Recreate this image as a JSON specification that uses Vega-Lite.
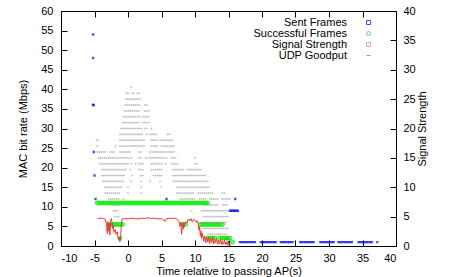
{
"$schema": "https://vega.github.io/schema/vega-lite/v6.json",
"width": 335, "height": 235,
"autosize": {"type": "none"},
"padding": {"left": 61, "top": 11, "right": 61, "bottom": 31},
"background": "white",
"config": {
  "font": "Liberation Sans",
  "view": {"stroke": "#000", "strokeWidth": 1},
  "axis": {"labelFont": "Liberation Sans", "labelFontSize": 11, "titleFont": "Liberation Sans", "titleFontSize": 11, "titleFontWeight": "normal", "labelColor": "#000", "titleColor": "#000", "domain": false, "grid": false, "tickColor": "#000", "tickSize": -6, "tickWidth": 1},
  "legend": {"orient": "none", "legendX": 202, "legendY": 6, "title": null, "labelAlign": "right", "symbolOffset": 100, "labelOffset": -27, "symbolSize": 16, "rowPadding": -2.5, "labelFontSize": 11, "labelFont": "Liberation Sans", "labelColor": "#000", "symbolStrokeWidth": 1}
},
"datasets": {
"sent": [
{"t":-5.2,"r":54},{"t":-5.2,"r":48},{"t":-5.25,"r":36},{"t":-5.1,"r":36},{"t":-5.1,"r":24},{"t":-5.0,"r":18},{"t":-4.85,"r":12},{"t":5.75,"r":12},{"t":16.0,"r":12},
{"t":-2.8,"r":5.5},{"t":-2.5,"r":5.5},{"t":8.3,"r":5.5},{"t":-1.2,"r":2},{"t":14.7,"r":2},{"t":15.0,"r":1},
{"t":15.2,"r":9},{"t":15.4,"r":9},{"t":15.6,"r":9},{"t":15.8,"r":9},{"t":16.0,"r":9},{"t":16.2,"r":9},{"t":16.4,"r":9},
{"t":16.7,"r":1},{"t":16.95,"r":1},{"t":17.2,"r":1},{"t":17.45,"r":1},{"t":17.7,"r":1},{"t":17.95,"r":1},{"t":18.2,"r":1},{"t":18.45,"r":1},{"t":18.7,"r":1},{"t":18.95,"r":1},
{"t":19.8,"r":1},{"t":20.05,"r":1},{"t":20.3,"r":1},{"t":20.55,"r":1},{"t":20.8,"r":1},{"t":21.05,"r":1},{"t":21.3,"r":1},{"t":21.55,"r":1},{"t":21.8,"r":1},{"t":22.05,"r":1},
{"t":22.8,"r":1},{"t":23.05,"r":1},{"t":23.3,"r":1},{"t":23.55,"r":1},{"t":23.8,"r":1},{"t":24.05,"r":1},{"t":24.3,"r":1},{"t":24.55,"r":1},
{"t":25.7,"r":1},{"t":25.95,"r":1},{"t":26.2,"r":1},{"t":26.45,"r":1},{"t":26.7,"r":1},{"t":26.95,"r":1},{"t":27.2,"r":1},{"t":27.45,"r":1},{"t":27.7,"r":1},
{"t":28.7,"r":1},{"t":28.95,"r":1},{"t":29.2,"r":1},{"t":29.45,"r":1},{"t":29.7,"r":1},{"t":29.95,"r":1},{"t":30.2,"r":1},{"t":30.45,"r":1},{"t":30.7,"r":1},
{"t":31.4,"r":1},{"t":31.65,"r":1},{"t":31.9,"r":1},{"t":32.15,"r":1},{"t":32.4,"r":1},{"t":32.65,"r":1},{"t":32.9,"r":1},{"t":33.15,"r":1},{"t":33.4,"r":1},
{"t":34.4,"r":1},{"t":34.65,"r":1},{"t":34.9,"r":1},{"t":35.15,"r":1},{"t":35.4,"r":1},{"t":35.65,"r":1},{"t":35.9,"r":1},{"t":36.15,"r":1},{"t":36.4,"r":1},
{"t":37.2,"r":1}
],
"succ": [
{"t":-4.6,"r":11},{"t":-4.3,"r":11},{"t":-4.0,"r":11},{"t":-3.7,"r":11},{"t":-3.4,"r":11},{"t":-3.1,"r":11},{"t":-2.8,"r":11},{"t":-2.5,"r":11},{"t":-2.2,"r":11},{"t":-1.9,"r":11},{"t":-1.6,"r":11},{"t":-1.3,"r":11},{"t":-1.0,"r":11},{"t":-0.7,"r":11},{"t":-0.4,"r":11},{"t":-0.1,"r":11},{"t":0.2,"r":11},{"t":0.5,"r":11},{"t":0.8,"r":11},{"t":1.1,"r":11},{"t":1.4,"r":11},{"t":1.7,"r":11},{"t":2.0,"r":11},{"t":2.3,"r":11},{"t":2.6,"r":11},{"t":2.9,"r":11},{"t":3.2,"r":11},{"t":3.5,"r":11},{"t":3.8,"r":11},{"t":4.1,"r":11},{"t":4.4,"r":11},{"t":4.7,"r":11},{"t":5.0,"r":11},{"t":5.3,"r":11},{"t":5.6,"r":11},{"t":5.9,"r":11},{"t":6.2,"r":11},{"t":6.5,"r":11},{"t":6.8,"r":11},{"t":7.1,"r":11},{"t":7.4,"r":11},{"t":7.7,"r":11},{"t":8.0,"r":11},{"t":8.3,"r":11},{"t":8.6,"r":11},{"t":8.9,"r":11},{"t":9.2,"r":11},{"t":9.5,"r":11},{"t":9.8,"r":11},{"t":10.1,"r":11},{"t":10.4,"r":11},{"t":10.7,"r":11},{"t":11.0,"r":11},{"t":11.3,"r":11},{"t":11.6,"r":11},{"t":11.9,"r":11},
{"t":-2.9,"r":5.5},{"t":-2.6,"r":5.5},{"t":-2.3,"r":5.5},{"t":-2.0,"r":5.5},{"t":-1.7,"r":5.5},{"t":-1.4,"r":5.5},{"t":-1.1,"r":5.5},{"t":-0.8,"r":5.5},
{"t":8.0,"r":5.5},{"t":8.3,"r":5.5},{"t":8.6,"r":5.5},
{"t":10.8,"r":5.5},{"t":11.1,"r":5.5},{"t":11.4,"r":5.5},{"t":11.7,"r":5.5},{"t":12.0,"r":5.5},{"t":12.3,"r":5.5},{"t":12.6,"r":5.5},{"t":12.9,"r":5.5},{"t":13.2,"r":5.5},{"t":13.5,"r":5.5},{"t":13.8,"r":5.5},{"t":14.1,"r":5.5},
{"t":-1.2,"r":2},{"t":11.8,"r":2},{"t":12.1,"r":2},{"t":12.4,"r":2},{"t":12.7,"r":2},{"t":13.0,"r":2},{"t":13.7,"r":2},{"t":14.0,"r":2},{"t":14.3,"r":2},{"t":14.6,"r":2},{"t":14.9,"r":2},{"t":15.2,"r":2},
{"t":15.6,"r":1}
],
"sig": [
{"t":0.5,"s":27},
{"t":-0.3,"s":26},{"t":0,"s":26},{"t":0.6,"s":26},{"t":0.9,"s":26},{"t":1.4,"s":26},{"t":1.7,"s":26},
{"t":-0.3,"s":25},{"t":0,"s":25},{"t":0.3,"s":25},{"t":0.6,"s":25},{"t":0.9,"s":25},{"t":1.2,"s":25},{"t":1.5,"s":25},{"t":1.8,"s":25},
{"t":-0.4,"s":24},{"t":-0.1,"s":24},{"t":0.2,"s":24},{"t":0.5,"s":24},{"t":0.8,"s":24},{"t":1.1,"s":24},{"t":1.4,"s":24},{"t":1.7,"s":24},{"t":2.5,"s":24},{"t":2.8,"s":24},
{"t":-0.5,"s":23},{"t":-0.2,"s":23},{"t":0.1,"s":23},{"t":0.4,"s":23},{"t":0.7,"s":23},{"t":1,"s":23},{"t":1.3,"s":23},{"t":1.6,"s":23},{"t":2.5,"s":23},{"t":2.8,"s":23},{"t":3.1,"s":23},
{"t":-0.7,"s":22},{"t":-0.4,"s":22},{"t":-0.1,"s":22},{"t":0.2,"s":22},{"t":0.5,"s":22},{"t":0.8,"s":22},{"t":1.1,"s":22},{"t":1.4,"s":22},{"t":1.7,"s":22},{"t":2.2,"s":22},{"t":2.5,"s":22},{"t":2.8,"s":22},{"t":3.1,"s":22},
{"t":-0.8,"s":21},{"t":-0.5,"s":21},{"t":-0.2,"s":21},{"t":0.1,"s":21},{"t":0.4,"s":21},{"t":0.7,"s":21},{"t":1,"s":21},{"t":1.3,"s":21},{"t":1.6,"s":21},{"t":2.2,"s":21},{"t":2.5,"s":21},{"t":2.8,"s":21},{"t":3.2,"s":21},
{"t":-1,"s":20},{"t":-0.7,"s":20},{"t":-0.4,"s":20},{"t":-0.1,"s":20},{"t":0.2,"s":20},{"t":0.5,"s":20},{"t":0.8,"s":20},{"t":1.1,"s":20},{"t":1.4,"s":20},{"t":1.7,"s":20},{"t":2,"s":20},{"t":2.5,"s":20},{"t":2.8,"s":20},{"t":3.5,"s":20},
{"t":-1.2,"s":19},{"t":-0.9,"s":19},{"t":-0.6,"s":19},{"t":-0.3,"s":19},{"t":0,"s":19},{"t":0.3,"s":19},{"t":0.6,"s":19},{"t":0.9,"s":19},{"t":1.2,"s":19},{"t":1.5,"s":19},{"t":1.8,"s":19},{"t":2.1,"s":19},{"t":2.8,"s":19},{"t":3.3,"s":19},{"t":3.6,"s":19},{"t":3.9,"s":19},{"t":4.2,"s":19},{"t":5.9,"s":19},{"t":6.2,"s":19},
{"t":-4.7,"s":18},{"t":-4.4,"s":18},{"t":-1.2,"s":18},{"t":-0.9,"s":18},{"t":-0.6,"s":18},{"t":-0.3,"s":18},{"t":0,"s":18},{"t":0.3,"s":18},{"t":0.6,"s":18},{"t":0.9,"s":18},{"t":1.2,"s":18},{"t":1.5,"s":18},{"t":1.8,"s":18},{"t":2.1,"s":18},{"t":2.4,"s":18},{"t":3.4,"s":18},{"t":3.7,"s":18},{"t":4,"s":18},{"t":4.3,"s":18},{"t":4.8,"s":18},{"t":5.1,"s":18},{"t":5.4,"s":18},{"t":5.7,"s":18},{"t":6,"s":18},{"t":6.3,"s":18},{"t":6.6,"s":18},
{"t":-4.6,"s":17},{"t":-1.9,"s":17},{"t":-1.2,"s":17},{"t":-0.9,"s":17},{"t":-0.6,"s":17},{"t":-0.3,"s":17},{"t":0,"s":17},{"t":0.3,"s":17},{"t":0.6,"s":17},{"t":0.9,"s":17},{"t":1.2,"s":17},{"t":1.5,"s":17},{"t":1.8,"s":17},{"t":2.1,"s":17},{"t":2.4,"s":17},{"t":3.5,"s":17},{"t":3.8,"s":17},{"t":4.1,"s":17},{"t":4.4,"s":17},{"t":5,"s":17},{"t":5.3,"s":17},{"t":5.6,"s":17},{"t":5.9,"s":17},{"t":6.2,"s":17},{"t":6.5,"s":17},{"t":6.8,"s":17},
{"t":-4.6,"s":16},{"t":-4.3,"s":16},{"t":-4,"s":16},{"t":-3.7,"s":16},{"t":-3.4,"s":16},{"t":-2.7,"s":16},{"t":-2.4,"s":16},{"t":-2.1,"s":16},{"t":-1.2,"s":16},{"t":-0.9,"s":16},{"t":-0.6,"s":16},{"t":-0.3,"s":16},{"t":0,"s":16},{"t":0.3,"s":16},{"t":1.6,"s":16},{"t":1.9,"s":16},{"t":3.3,"s":16},{"t":3.6,"s":16},{"t":3.9,"s":16},{"t":4.2,"s":16},{"t":4.5,"s":16},{"t":4.8,"s":16},{"t":5.1,"s":16},{"t":5.4,"s":16},{"t":5.7,"s":16},{"t":6,"s":16},{"t":6.3,"s":16},{"t":6.6,"s":16},{"t":6.9,"s":16},
{"t":-4.4,"s":15},{"t":-4.1,"s":15},{"t":-3.8,"s":15},{"t":-3.5,"s":15},{"t":-3.2,"s":15},{"t":-2.9,"s":15},{"t":-2.6,"s":15},{"t":-2.3,"s":15},{"t":-2,"s":15},{"t":-1.7,"s":15},{"t":-1.4,"s":15},{"t":-1.1,"s":15},{"t":-0.8,"s":15},{"t":-0.5,"s":15},{"t":-0.2,"s":15},{"t":0.1,"s":15},{"t":0.5,"s":15},{"t":1.6,"s":15},{"t":1.9,"s":15},{"t":2.6,"s":15},{"t":2.9,"s":15},{"t":3.3,"s":15},{"t":3.6,"s":15},{"t":3.9,"s":15},{"t":4.2,"s":15},{"t":4.5,"s":15},{"t":4.8,"s":15},{"t":5.1,"s":15},{"t":5.4,"s":15},{"t":5.8,"s":15},{"t":6.5,"s":15},{"t":6.8,"s":15},{"t":7.1,"s":15},{"t":10,"s":15},
{"t":-4.2,"s":14},{"t":-3.9,"s":14},{"t":-3.6,"s":14},{"t":-3.3,"s":14},{"t":-3,"s":14},{"t":-2.7,"s":14},{"t":-2.4,"s":14},{"t":-2.1,"s":14},{"t":-1.8,"s":14},{"t":-1.5,"s":14},{"t":-1.2,"s":14},{"t":-0.9,"s":14},{"t":-0.6,"s":14},{"t":-0.3,"s":14},{"t":0,"s":14},{"t":0.5,"s":14},{"t":1.1,"s":14},{"t":1.6,"s":14},{"t":1.9,"s":14},{"t":2.2,"s":14},{"t":3.5,"s":14},{"t":3.8,"s":14},{"t":4.1,"s":14},{"t":4.4,"s":14},{"t":4.7,"s":14},{"t":5,"s":14},{"t":5.6,"s":14},{"t":6.5,"s":14},{"t":6.8,"s":14},{"t":7.1,"s":14},{"t":7.4,"s":14},{"t":10,"s":14},{"t":10.3,"s":14},
{"t":-3.9,"s":13},{"t":-3.6,"s":13},{"t":-3.3,"s":13},{"t":-3,"s":13},{"t":-2.7,"s":13},{"t":-2.4,"s":13},{"t":-2.1,"s":13},{"t":-1.8,"s":13},{"t":-1.5,"s":13},{"t":-1.2,"s":13},{"t":-0.9,"s":13},{"t":-0.6,"s":13},{"t":-0.3,"s":13},{"t":0.3,"s":13},{"t":1.6,"s":13},{"t":1.9,"s":13},{"t":2.2,"s":13},{"t":3.5,"s":13},{"t":3.8,"s":13},{"t":4.1,"s":13},{"t":4.4,"s":13},{"t":4.7,"s":13},{"t":5,"s":13},{"t":6.7,"s":13},{"t":7,"s":13},{"t":7.3,"s":13},{"t":7.6,"s":13},{"t":7.9,"s":13},{"t":8.2,"s":13},{"t":8.8,"s":13},{"t":9.1,"s":13},{"t":9.4,"s":13},{"t":9.7,"s":13},{"t":10,"s":13},{"t":10.3,"s":13},{"t":10.6,"s":13},{"t":10.9,"s":13},
{"t":-3.9,"s":12},{"t":-3.6,"s":12},{"t":-3.3,"s":12},{"t":-3,"s":12},{"t":-2.7,"s":12},{"t":-2.4,"s":12},{"t":-2.1,"s":12},{"t":-1.8,"s":12},{"t":-1.5,"s":12},{"t":-1.2,"s":12},{"t":-0.9,"s":12},{"t":-0.6,"s":12},{"t":0.6,"s":12},{"t":1.9,"s":12},{"t":2.2,"s":12},{"t":3.8,"s":12},{"t":4.1,"s":12},{"t":4.4,"s":12},{"t":4.7,"s":12},{"t":5,"s":12},{"t":6.7,"s":12},{"t":7,"s":12},{"t":7.3,"s":12},{"t":7.6,"s":12},{"t":7.9,"s":12},{"t":8.2,"s":12},{"t":8.5,"s":12},{"t":8.8,"s":12},{"t":9.1,"s":12},{"t":9.4,"s":12},{"t":9.7,"s":12},{"t":10,"s":12},{"t":10.3,"s":12},{"t":10.6,"s":12},{"t":10.9,"s":12},{"t":11.2,"s":12},{"t":11.5,"s":12},
{"t":-3.7,"s":11},{"t":-3.4,"s":11},{"t":-3.1,"s":11},{"t":-2.8,"s":11},{"t":-2.5,"s":11},{"t":-2.2,"s":11},{"t":-1.9,"s":11},{"t":-1.6,"s":11},{"t":-1.3,"s":11},{"t":-1,"s":11},{"t":-0.7,"s":11},{"t":0.5,"s":11},{"t":2,"s":11},{"t":3.3,"s":11},{"t":4.8,"s":11},{"t":6.8,"s":11},{"t":7.1,"s":11},{"t":7.4,"s":11},{"t":7.7,"s":11},{"t":8,"s":11},{"t":8.3,"s":11},{"t":8.6,"s":11},{"t":8.9,"s":11},{"t":9.2,"s":11},{"t":9.5,"s":11},{"t":9.8,"s":11},{"t":10.1,"s":11},{"t":10.4,"s":11},{"t":10.7,"s":11},{"t":11,"s":11},{"t":11.3,"s":11},{"t":11.6,"s":11},{"t":11.9,"s":11},
{"t":-3.4,"s":10},{"t":-3.1,"s":10},{"t":-2.8,"s":10},{"t":-2.5,"s":10},{"t":-2.2,"s":10},{"t":-1.9,"s":10},{"t":-1.6,"s":10},{"t":-1.3,"s":10},{"t":-1,"s":10},{"t":0,"s":10},{"t":2,"s":10},{"t":5,"s":10},{"t":7.3,"s":10},{"t":7.6,"s":10},{"t":7.9,"s":10},{"t":8.2,"s":10},{"t":8.5,"s":10},{"t":8.8,"s":10},{"t":9.1,"s":10},{"t":9.4,"s":10},{"t":9.7,"s":10},{"t":10,"s":10},{"t":10.3,"s":10},{"t":10.6,"s":10},{"t":10.9,"s":10},{"t":11.2,"s":10},{"t":11.5,"s":10},{"t":11.8,"s":10},{"t":12.1,"s":10},
{"t":-3.4,"s":9},{"t":-3.1,"s":9},{"t":-2.8,"s":9},{"t":-2.5,"s":9},{"t":-2.2,"s":9},{"t":-1.9,"s":9},{"t":-1.6,"s":9},{"t":-1.3,"s":9},{"t":0,"s":9},{"t":2,"s":9},{"t":7.3,"s":9},{"t":7.6,"s":9},{"t":7.9,"s":9},{"t":8.2,"s":9},{"t":8.5,"s":9},{"t":8.8,"s":9},{"t":9.1,"s":9},{"t":9.4,"s":9},{"t":9.7,"s":9},{"t":10.5,"s":9},{"t":10.8,"s":9},{"t":11.1,"s":9},{"t":11.4,"s":9},{"t":11.7,"s":9},{"t":12,"s":9},{"t":12.3,"s":9},{"t":12.6,"s":9},{"t":14.1,"s":9},{"t":14.4,"s":9},
{"t":-2.9,"s":8},{"t":-2.6,"s":8},{"t":-2.3,"s":8},{"t":-2,"s":8},{"t":-1.7,"s":8},{"t":-1.4,"s":8},{"t":-0.7,"s":8},{"t":7.8,"s":8},{"t":8.1,"s":8},{"t":8.4,"s":8},{"t":8.7,"s":8},{"t":9,"s":8},{"t":9.3,"s":8},{"t":9.6,"s":8},{"t":9.9,"s":8},{"t":10.7,"s":8},{"t":11,"s":8},{"t":11.3,"s":8},{"t":11.6,"s":8},{"t":12.2,"s":8},{"t":12.5,"s":8},{"t":12.8,"s":8},{"t":13.1,"s":8},{"t":13.4,"s":8},{"t":14,"s":8},{"t":14.3,"s":8},{"t":14.6,"s":8},{"t":14.9,"s":8},{"t":15.2,"s":8},
{"t":-2.4,"s":7},{"t":-2.1,"s":7},{"t":-1.8,"s":7},{"t":-1.5,"s":7},{"t":-1.2,"s":7},{"t":8.3,"s":7},{"t":11.3,"s":7},{"t":11.6,"s":7},{"t":11.9,"s":7},{"t":12.2,"s":7},{"t":12.5,"s":7},{"t":12.8,"s":7},{"t":13.1,"s":7},{"t":13.4,"s":7},{"t":14.2,"s":7},{"t":14.5,"s":7},{"t":14.8,"s":7},
{"t":-2.2,"s":6},{"t":-1.9,"s":6},{"t":-1.6,"s":6},{"t":9.5,"s":6},{"t":11,"s":6},{"t":11.3,"s":6},{"t":11.6,"s":6},{"t":11.9,"s":6},{"t":12.2,"s":6},{"t":12.5,"s":6},{"t":12.8,"s":6},{"t":13.1,"s":6},{"t":13.4,"s":6},{"t":13.7,"s":6},{"t":14,"s":6},{"t":14.3,"s":6},{"t":14.6,"s":6},{"t":14.9,"s":6},
{"t":-2,"s":5},{"t":-1.7,"s":5},{"t":-1.4,"s":5},{"t":11.3,"s":5},{"t":11.6,"s":5},{"t":11.9,"s":5},{"t":12.2,"s":5},{"t":12.5,"s":5},{"t":12.8,"s":5},{"t":13.1,"s":5},{"t":13.4,"s":5},{"t":13.7,"s":5},{"t":14,"s":5},{"t":14.3,"s":5},{"t":14.6,"s":5},{"t":14.9,"s":5},
{"t":11,"s":4},{"t":11.3,"s":4},{"t":11.6,"s":4},{"t":11.9,"s":4},{"t":12.2,"s":4},{"t":12.5,"s":4},{"t":12.8,"s":4},{"t":13.1,"s":4},{"t":13.4,"s":4},{"t":13.7,"s":4},{"t":14,"s":4},{"t":14.3,"s":4},{"t":14.6,"s":4},
{"t":11.3,"s":3},{"t":11.6,"s":3},{"t":11.9,"s":3},{"t":12.2,"s":3},{"t":12.5,"s":3},{"t":12.8,"s":3},{"t":13.1,"s":3},{"t":13.4,"s":3},{"t":13.7,"s":3},{"t":14,"s":3},{"t":14.3,"s":3},{"t":14.6,"s":3},{"t":14.9,"s":3},
{"t":12,"s":2},{"t":12.3,"s":2},{"t":12.6,"s":2},{"t":12.9,"s":2},{"t":13.2,"s":2},{"t":13.5,"s":2},{"t":13.8,"s":2},{"t":14.1,"s":2},{"t":14.4,"s":2},{"t":14.7,"s":2}
],
"udp": [
{"t":-4.5,"g":7.0},{"t":-4.0,"g":7.1},{"t":-3.6,"g":7.0},{"t":-3.4,"g":6.8},{"t":-3.2,"g":5.5},{"t":-3.1,"g":3.2},{"t":-3.0,"g":6.2},{"t":-2.9,"g":3.8},{"t":-2.8,"g":5.8},{"t":-2.7,"g":2.8},{"t":-2.6,"g":6.0},{"t":-2.5,"g":7.0},{"t":-2.4,"g":6.2},{"t":-2.3,"g":4.5},{"t":-2.2,"g":5.2},{"t":-2.1,"g":3.5},{"t":-1.9,"g":4.2},{"t":-1.8,"g":3.0},{"t":-1.6,"g":3.6},{"t":-1.5,"g":2.2},{"t":-1.4,"g":1.6},{"t":-1.3,"g":2.0},{"t":-1.2,"g":1.1},{"t":-1.1,"g":2.5},{"t":-1.0,"g":5.0},{"t":-0.9,"g":6.9},{"t":-0.5,"g":7.0},{"t":0.0,"g":6.9},{"t":0.5,"g":7.1},{"t":1.0,"g":7.0},{"t":1.5,"g":6.9},{"t":2.0,"g":7.1},{"t":2.5,"g":7.0},{"t":3.0,"g":7.2},{"t":3.5,"g":7.0},{"t":4.0,"g":7.1},{"t":4.5,"g":6.9},{"t":5.0,"g":7.0},{"t":5.3,"g":6.7},{"t":5.5,"g":6.2},{"t":5.7,"g":6.9},{"t":6.0,"g":7.1},{"t":6.5,"g":7.0},{"t":7.0,"g":7.1},{"t":7.4,"g":6.8},{"t":7.6,"g":6.3},{"t":7.8,"g":5.0},{"t":7.9,"g":6.0},{"t":8.0,"g":3.0},{"t":8.1,"g":4.8},{"t":8.2,"g":6.0},{"t":8.3,"g":4.3},{"t":8.4,"g":5.5},{"t":8.6,"g":6.2},{"t":8.8,"g":5.8},{"t":9.0,"g":6.9},{"t":9.2,"g":6.4},{"t":9.4,"g":7.0},{"t":9.6,"g":6.1},{"t":9.8,"g":6.8},{"t":10.0,"g":6.6},{"t":10.2,"g":6.0},{"t":10.4,"g":6.5},{"t":10.6,"g":4.0},{"t":10.7,"g":5.0},{"t":10.8,"g":2.5},{"t":10.9,"g":3.8},{"t":11.0,"g":2.0},{"t":11.1,"g":3.3},{"t":11.3,"g":1.2},{"t":11.4,"g":2.6},{"t":11.6,"g":0.8},{"t":11.7,"g":2.2},{"t":11.9,"g":1.0},{"t":12.0,"g":2.4},{"t":12.2,"g":0.6},{"t":12.3,"g":1.9},{"t":12.5,"g":0.9},{"t":12.6,"g":2.3},{"t":12.8,"g":0.5},{"t":12.9,"g":1.6},{"t":13.1,"g":0.8},{"t":13.2,"g":2.0},{"t":13.4,"g":0.4},{"t":13.5,"g":1.5},{"t":13.7,"g":0.6},{"t":13.8,"g":1.8},{"t":14.0,"g":0.3},{"t":14.1,"g":1.2},{"t":14.3,"g":0.5},{"t":14.4,"g":1.6},{"t":14.6,"g":0.3},{"t":14.7,"g":1.0},{"t":14.9,"g":0.2},{"t":15.0,"g":0.9},{"t":15.2,"g":0.1},{"t":15.4,"g":0.4}
]
},
"layer": [
{
 "data": {"name": "sent"},
 "mark": {"type": "point", "filled": false, "strokeWidth": 1.1, "size": 1.5},
 "encoding": {
  "x": {"field": "t", "type": "quantitative", "scale": {"domain": [-10, 40], "nice": false, "zero": false},
        "axis": {"orient": "bottom", "values": [-10,-5,0,5,10,15,20,25,30,35,40], "labelExpr": "'' + datum.value", "labelPadding": 12, "title": "Time relative to passing AP(s)", "titlePadding": 2}},
  "y": {"field": "r", "type": "quantitative", "scale": {"domain": [0, 60], "nice": false},
        "axis": {"orient": "left", "values": [0,5,10,15,20,25,30,35,40,45,50,55,60], "labelPadding": 14, "title": "MAC bit rate (Mbps)", "titlePadding": 12}},
  "color": {"datum": "Sent Frames", "type": "nominal", "scale": {"domain": ["Sent Frames", "Successful Frames", "Signal Strength", "UDP Goodput"], "range": ["#0000ff", "#00ee00", "#999999", "#ff3333"]},
            "legend": {"encode": {"symbols": {"enter": {"size": {"signal": "datum.label === 'UDP Goodput' ? 1024 : datum.label === 'Successful Frames' ? 12 : 2"}}}}}},
  "shape": {"datum": "Sent Frames", "type": "nominal", "scale": {"domain": ["Sent Frames", "Successful Frames", "Signal Strength", "UDP Goodput"], "range": ["square", "circle", "square", "stroke"]},
            "legend": {"encode": {"symbols": {"enter": {"size": {"signal": "datum.label === 'UDP Goodput' ? 1024 : datum.label === 'Successful Frames' ? 12 : 2"}}}}}}
 }
},
{
 "data": {"name": "succ"},
 "mark": {"type": "point", "filled": false, "strokeWidth": 1.8, "size": 10},
 "encoding": {
  "x": {"field": "t", "type": "quantitative", "scale": {"domain": [-10, 40], "nice": false, "zero": false}, "axis": null},
  "y": {"field": "r", "type": "quantitative", "scale": {"domain": [0, 60], "nice": false}, "axis": null},
  "color": {"datum": "Successful Frames", "type": "nominal"},
  "shape": {"datum": "Successful Frames", "type": "nominal"}
 }
},
{
 "data": {"name": "sig"},
 "mark": {"type": "point", "filled": false, "strokeWidth": 0.7, "size": 1},
 "encoding": {
  "x": {"field": "t", "type": "quantitative", "scale": {"domain": [-10, 40], "nice": false, "zero": false},
        "axis": {"orient": "top", "values": [-10,-5,0,5,10,15,20,25,30,35,40], "labels": false, "title": null}},
  "y": {"field": "s", "type": "quantitative", "scale": {"domain": [0, 40], "nice": false},
        "axis": {"orient": "right", "values": [0,5,10,15,20,25,30,35,40], "labelPadding": 13, "title": "Signal Strength", "titleAngle": -90, "titlePadding": 12}},
  "color": {"datum": "Signal Strength", "type": "nominal"},
  "shape": {"datum": "Signal Strength", "type": "nominal"}
 }
},
{
 "data": {"name": "udp"},
 "mark": {"type": "line", "strokeWidth": 1, "interpolate": "linear"},
 "encoding": {
  "x": {"field": "t", "type": "quantitative", "scale": {"domain": [-10, 40], "nice": false, "zero": false}, "axis": null},
  "y": {"field": "g", "type": "quantitative", "scale": {"domain": [0, 60], "nice": false}, "axis": null},
  "color": {"datum": "UDP Goodput", "type": "nominal"}
 }
}
],
"resolve": {"scale": {"x": "independent", "y": "independent"}}
}
